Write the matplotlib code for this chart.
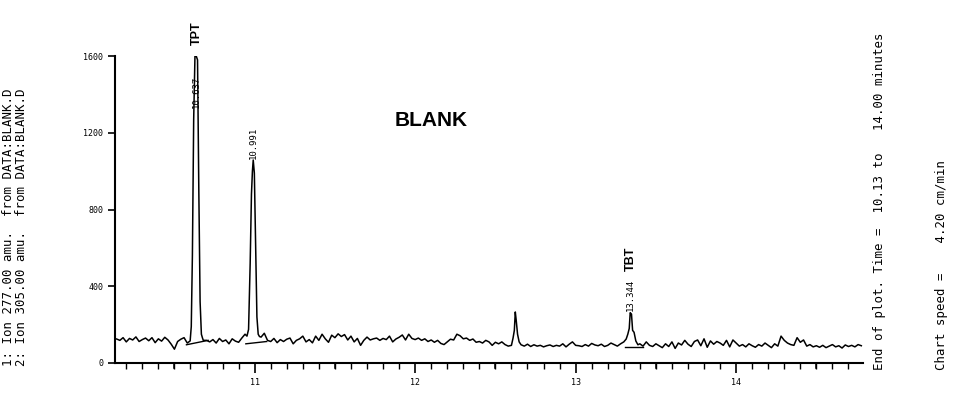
import matplotlib
matplotlib.use('Agg')
import matplotlib.pyplot as plt
from matplotlib.ticker import MultipleLocator, FixedLocator
import numpy as np

# --- data ---
# baseline noise sampled every 0.02 min, 10.14 .. 14.78
base_start, base_step = 10.14, 0.02
base_y = [
    125, 118, 132, 110, 128, 120, 136, 112, 122, 130,
    116, 132, 106, 126, 114, 134, 120, 98, 72, 112,
    124, 132, 104, 120, 96, 110, 115, 118, 118, 110,
    122, 104, 128, 112, 120, 100, 126, 114, 108, 130,
    150, 140, 120, 118, 125, 135, 155, 118, 112, 128,
    106, 122, 112, 124, 130, 100, 118, 126, 140, 110,
    122, 105, 140, 118, 150, 126, 108, 145, 132, 152,
    138, 148, 120, 140, 110, 128, 92, 118, 135, 120,
    126, 130, 118, 128, 122, 140, 110, 125, 134, 146,
    120, 150, 128, 122, 130, 118, 126, 112, 120, 108,
    118, 102, 96, 110, 124, 120, 150, 142, 126, 130,
    118, 125, 108, 112, 104, 118, 110, 92, 108, 100,
    110, 96, 88, 100, 100, 100, 92, 88, 98, 86,
    95, 88, 92, 84, 90, 94, 86, 92, 88, 100,
    84, 98, 110, 92, 90, 86, 96, 88, 102, 94,
    90, 98, 86, 92, 104, 96, 88, 100, 110, 120,
    110, 100, 84, 96, 88, 110, 92, 86, 100, 90,
    80, 100, 86, 110, 76, 104, 94, 118, 98, 86,
    112, 120, 90, 126, 82, 115, 98, 112, 104, 92,
    118, 84, 120, 104, 88, 96, 84, 100, 90, 82,
    96, 88, 104, 92, 80, 100, 88, 140, 118, 104,
    96, 92, 132, 108, 120, 88, 96, 84, 90, 82,
    92, 80, 88, 96, 84, 90, 78, 94, 86, 92,
    84, 96, 90,
]

# peaks
tpt_t = [10.598, 10.605, 10.612, 10.620, 10.628, 10.636, 10.644, 10.652, 10.660, 10.668, 10.675]
tpt_y = [115, 190, 560, 1270, 1600, 1600, 1580, 900, 320, 150, 130]
p2_t = [10.952, 10.962, 10.972, 10.980, 10.986, 10.991, 10.998, 11.006, 11.014, 11.022, 11.030]
p2_y = [140, 175, 520, 880, 1000, 1058, 990, 620, 240, 150, 138]
p3_t = [12.600, 12.610, 12.618, 12.624, 12.630, 12.638, 12.648, 12.660]
p3_y = [92, 130, 170, 266, 220, 150, 110, 95]
tbt_t = [13.300, 13.315, 13.325, 13.334, 13.340, 13.348, 13.355, 13.364, 13.375, 13.388, 13.400]
tbt_y = [110, 125, 150, 180, 262, 255, 170, 160, 115, 95, 100]

# integration baselines drawn under the peaks
ibase_t = [(10.575, 10.71), (10.945, 11.075), (13.31, 13.42)]
ibase_y = [(95, 118), (100, 112), (82, 82)]

# retention time labels
rt_labels = ['10.637', '10.991', '13.344']
rt_pos = [10.637, 10.991, 13.344]
rt_base = [1330, 1065, 270]

# --- merge baseline and peaks into one trace ---
t = base_start + base_step * np.arange(len(base_y))
y = np.array(base_y, dtype=float)
keep = np.ones(len(t), dtype=bool)
peaks = [(tpt_t, tpt_y), (p2_t, p2_y), (p3_t, p3_y), (tbt_t, tbt_y)]
for pt, py in peaks:
    keep &= ~((t >= pt[0] - 1e-9) & (t <= pt[-1] + 1e-9))
all_t = np.concatenate([t[keep]] + [np.array(pt) for pt, _ in peaks])
all_y = np.concatenate([y[keep]] + [np.array(py, dtype=float) for _, py in peaks])
order = np.argsort(all_t)
all_t, all_y = all_t[order], all_y[order]

mono = 'DejaVu Sans Mono'

fig = plt.figure(figsize=(9.7, 3.94), dpi=100)
ax = fig.add_axes([0.1186, 0.0787, 0.771, 0.779])

ax.plot(all_t, all_y, color='black', lw=1.1)
for (t0, t1), (y0, y1) in zip(ibase_t, ibase_y):
    ax.plot([t0, t1], [y0, y1], color='black', lw=1.0)

ax.set_xlim(10.13, 14.79)
ax.set_ylim(0, 1600)

for s in ['top', 'right']:
    ax.spines[s].set_visible(False)
for s in ['left', 'bottom']:
    ax.spines[s].set_linewidth(1.5)

ax.xaxis.set_major_locator(MultipleLocator(1))
ax.xaxis.set_minor_locator(MultipleLocator(0.1))
ax.yaxis.set_major_locator(MultipleLocator(400))
ax.tick_params(axis='x', which='major', length=7, width=1.2, labelsize=6)
ax.tick_params(axis='x', which='minor', length=4, width=1.0)
ax.tick_params(axis='y', which='major', length=5, width=1.2, labelsize=6)
for lab in ax.get_xticklabels() + ax.get_yticklabels():
    lab.set_family(mono)

# half-minute ticks are a little longer
for xh in [10.5, 11.5, 12.5, 13.5, 14.5]:
    ax.plot([xh, xh], [0, -28], color='black', lw=1.1, clip_on=False)

# peak annotations
for lab, x, yb in zip(rt_labels, rt_pos, rt_base):
    ax.text(x, yb, lab, rotation=90, ha='center', va='bottom',
            fontsize=6.5, family=mono)
ax.text(10.637, 1660, 'TPT', rotation=90, ha='center', va='bottom',
        fontsize=9, weight='bold', family='Liberation Sans', clip_on=False)
ax.text(13.344, 480, 'TBT', rotation=90, ha='center', va='bottom',
        fontsize=9, weight='bold', family='Liberation Sans')
ax.text(12.10, 1266, 'BLANK', ha='center', va='center',
        fontsize=15, weight='bold', family='Liberation Sans')

# side annotations
fs_side = 8.9
fig.text(0.009, 0.072, '1: Ion 277.00 amu.  from DATA:BLANK.D', rotation=90,
         ha='center', va='bottom', fontsize=fs_side, family=mono)
fig.text(0.022, 0.072, '2: Ion 305.00 amu.  from DATA:BLANK.D', rotation=90,
         ha='center', va='bottom', fontsize=fs_side, family=mono)
fig.text(0.907, 0.062, 'End of plot. Time =  10.13 to   14.00 minutes', rotation=90,
         ha='center', va='bottom', fontsize=fs_side, family=mono)
fig.text(0.971, 0.062, 'Chart speed =    4.20 cm/min', rotation=90,
         ha='center', va='bottom', fontsize=fs_side, family=mono)

fig.savefig('out.png', dpi=100, facecolor='white')
